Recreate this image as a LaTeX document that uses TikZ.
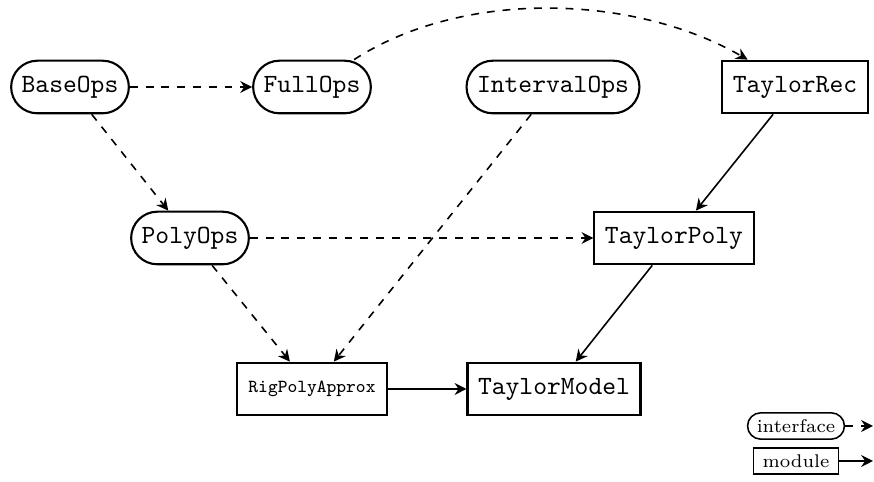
\documentclass[tikz,border=0pt]{standalone}
\usetikzlibrary{arrows.meta}
\begin{document}
\begin{tikzpicture}[x=0.3802pt,y=-0.3802pt,
  >={Stealth[length=4.5pt,width=4.5pt,inset=1.5pt]},
  iface/.style={draw,thick,rectangle,rounded corners=10pt,minimum height=20pt,inner xsep=4pt,font=\ttfamily},
  modbox/.style={draw,thick,rectangle,minimum height=20pt,inner xsep=4pt,font=\ttfamily},
  dep/.style={->,semithick,dashed},
  use/.style={->,semithick},
  liface/.style={draw,semithick,rectangle,rounded corners=5pt,minimum height=10pt,inner xsep=3.5pt,inner ysep=1pt,font=\rmfamily\scriptsize},
  lmod/.style={draw,semithick,rectangle,minimum height=9.8pt,inner xsep=3.5pt,inner ysep=1pt,font=\rmfamily\scriptsize}]
\useasboundingbox (0,0) rectangle (874,482);
\node[iface] (base) at (70,87) {BaseOps};
\node[iface] (full) at (312,87) {FullOps};
\node[iface] (interval) at (553,87) {IntervalOps};
\node[modbox] (trec) at (795,87) {TaylorRec};
\node[iface] (poly) at (190,238) {PolyOps};
\node[modbox] (tpoly) at (674,238) {TaylorPoly};
\node[modbox,font=\ttfamily\scriptsize,inner xsep=4.2pt] (rig) at (312,389) {RigPolyApprox};
\node[modbox] (tmodel) at (554,389) {TaylorModel};
\draw[dep] (base) -- (full);
\draw[dep] (full) to[out=33,in=150,looseness=0.85] (trec);
\draw[dep] (base) -- (poly);
\draw[dep] (poly) -- (tpoly);
\draw[dep] (poly) -- (rig);
\draw[dep] (interval) -- (rig);
\draw[use] (trec) -- (tpoly);
\draw[use] (tpoly) -- (tmodel);
\draw[use] (rig) -- (tmodel);
% legend
\node[liface] (li) at (796,426) {interface};
\node[lmod] (lm) at (796,461) {module};
\coordinate (lie) at (873,426);
\coordinate (lme) at (873,461);
\draw[dep] (li) -- (lie);
\draw[use] (lm) -- (lme);
\end{tikzpicture}
\end{document}
